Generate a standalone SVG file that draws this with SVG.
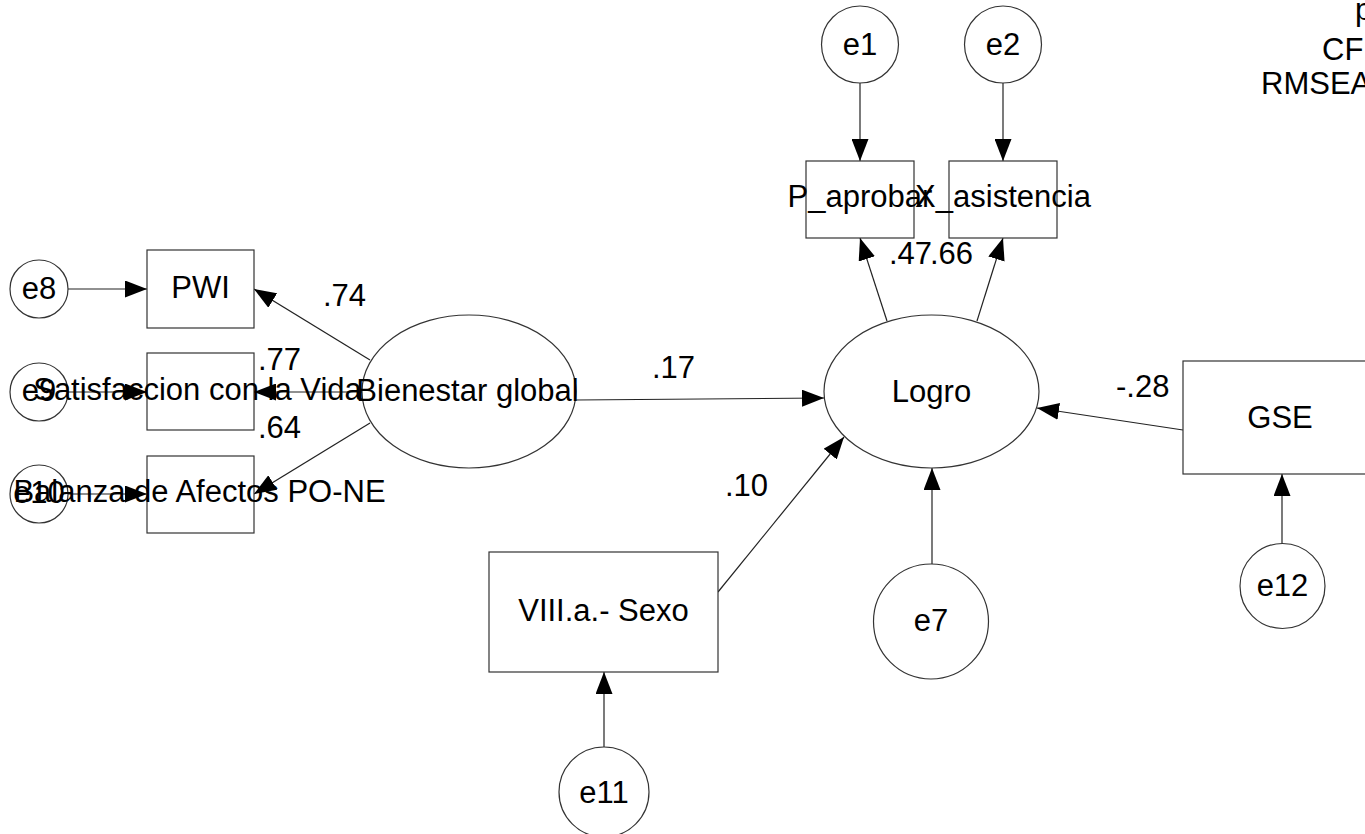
<svg xmlns="http://www.w3.org/2000/svg" width="1365" height="834" viewBox="0 0 1365 834">
  <defs>
    <marker id="arrow" markerUnits="userSpaceOnUse" markerWidth="22" markerHeight="17" refX="22" refY="8.5" orient="auto">
      <path d="M0,0 L22,8.5 L0,17 Z" fill="#000"/>
    </marker>
  </defs>
  <style>
    text { font-family: "Liberation Sans", Arial, sans-serif; font-size: 31px; fill: #000; }
    .c { text-anchor: middle; }
    .shape { fill: #fff; stroke: #333; stroke-width: 1.2; }
    .edge { stroke: #222; stroke-width: 1.2; fill: none; marker-end: url(#arrow); }
  </style>
  <rect width="1365" height="834" fill="#fff"/>

  <!-- paths -->
  <g id="connectors">
    <line class="edge" x1="68" y1="289" x2="147" y2="289"/>
    <line class="edge" x1="68" y1="392" x2="147" y2="392"/>
    <line class="edge" x1="68" y1="494" x2="147" y2="494"/>
    <line class="edge" x1="370" y1="360" x2="254" y2="289"/>
    <line class="edge" x1="362" y1="392" x2="254" y2="392"/>
    <line class="edge" x1="370" y1="423" x2="254" y2="494"/>
    <line class="edge" x1="576" y1="400" x2="824" y2="398"/>
    <line class="edge" x1="718" y1="592" x2="844" y2="437"/>
    <line class="edge" x1="1183" y1="430" x2="1037" y2="408"/>
    <line class="edge" x1="932" y1="564" x2="932" y2="468"/>
    <line class="edge" x1="887" y1="321" x2="860" y2="238"/>
    <line class="edge" x1="977" y1="321" x2="1003" y2="238"/>
    <line class="edge" x1="860" y1="83" x2="860" y2="161"/>
    <line class="edge" x1="1003" y1="83" x2="1003" y2="161"/>
    <line class="edge" x1="1282" y1="544" x2="1282" y2="474"/>
    <line class="edge" x1="604" y1="747" x2="604" y2="672"/>
  </g>

  <!-- coefficient labels -->
  <g id="labels">
    <text x="323" y="306">.74</text>
    <text x="258" y="370">.77</text>
    <text x="258" y="438">.64</text>
    <text x="652" y="378">.17</text>
    <text x="725" y="496">.10</text>
    <text x="1116" y="397">-.28</text>
    <text x="889" y="264">.47</text>
    <text x="930" y="264">.66</text>
  </g>

  <!-- observed variables -->
  <g id="PWI">
    <rect class="shape" x="147" y="250" width="107" height="78"/>
    <text class="c" x="200.5" y="298">PWI</text>
  </g>
  <g id="Satisfaccion">
    <rect class="shape" x="147" y="353" width="107" height="77"/>
  </g>
  <g id="Balanza">
    <rect class="shape" x="147" y="456" width="107" height="77"/>
  </g>
  <g id="P_aprobar">
    <rect class="shape" x="806" y="161" width="108" height="77"/>
  </g>
  <g id="X_asistencia">
    <rect class="shape" x="949" y="161" width="108" height="77"/>
  </g>
  <g id="GSE">
    <rect class="shape" x="1183" y="361" width="194" height="113"/>
    <text class="c" x="1280" y="428">GSE</text>
  </g>
  <g id="Sexo">
    <rect class="shape" x="489" y="552" width="229" height="120"/>
    <text class="c" x="603.5" y="621">VIII.a.- Sexo</text>
  </g>

  <!-- latent variables -->
  <g id="Bienestar">
    <ellipse class="shape" cx="469" cy="391.5" rx="107" ry="76.5"/>
  </g>
  <g id="Logro">
    <ellipse class="shape" cx="931.5" cy="391.5" rx="107.5" ry="76.5"/>
    <text class="c" x="931.5" y="402">Logro</text>
  </g>

  <!-- error terms -->
  <g id="e1">
    <circle class="shape" cx="860" cy="44.5" r="38.5"/>
    <text class="c" x="860" y="55">e1</text>
  </g>
  <g id="e2">
    <circle class="shape" cx="1003" cy="44.5" r="38.5"/>
    <text class="c" x="1003" y="55">e2</text>
  </g>
  <g id="e8">
    <circle class="shape" cx="39" cy="289" r="29"/>
    <text class="c" x="39" y="299">e8</text>
  </g>
  <g id="e9">
    <circle class="shape" cx="39" cy="392" r="29"/>
    <text class="c" x="39" y="401">e9</text>
  </g>
  <g id="e10">
    <circle class="shape" cx="39" cy="494" r="29"/>
    <text class="c" x="39" y="503">e10</text>
  </g>
  <g id="e7">
    <circle class="shape" cx="931" cy="621.5" r="57.5"/>
    <text class="c" x="931" y="631">e7</text>
  </g>
  <g id="e12">
    <circle class="shape" cx="1282.5" cy="586" r="42.5"/>
    <text class="c" x="1282.5" y="596">e12</text>
  </g>
  <g id="e11">
    <circle class="shape" cx="604" cy="792" r="45"/>
    <text class="c" x="604" y="803">e11</text>
  </g>

  <!-- variable names drawn over neighbouring shapes -->
  <g id="names">
    <text class="c" x="197.5" y="400">Satisfaccion con la Vida</text>
    <text class="c" x="199.5" y="502">Balanza de Afectos PO-NE</text>
    <text class="c" x="860" y="207">P_aprobar</text>
    <text class="c" x="1003" y="207">X_asistencia</text>
    <text class="c" x="467.5" y="401">Bienestar global</text>
  </g>

  <!-- fit indices -->
  <g id="fit">
    <text x="1355" y="20">p</text>
    <text x="1322" y="60">CF</text>
    <text x="1261" y="94">RMSEA</text>
  </g>
</svg>
